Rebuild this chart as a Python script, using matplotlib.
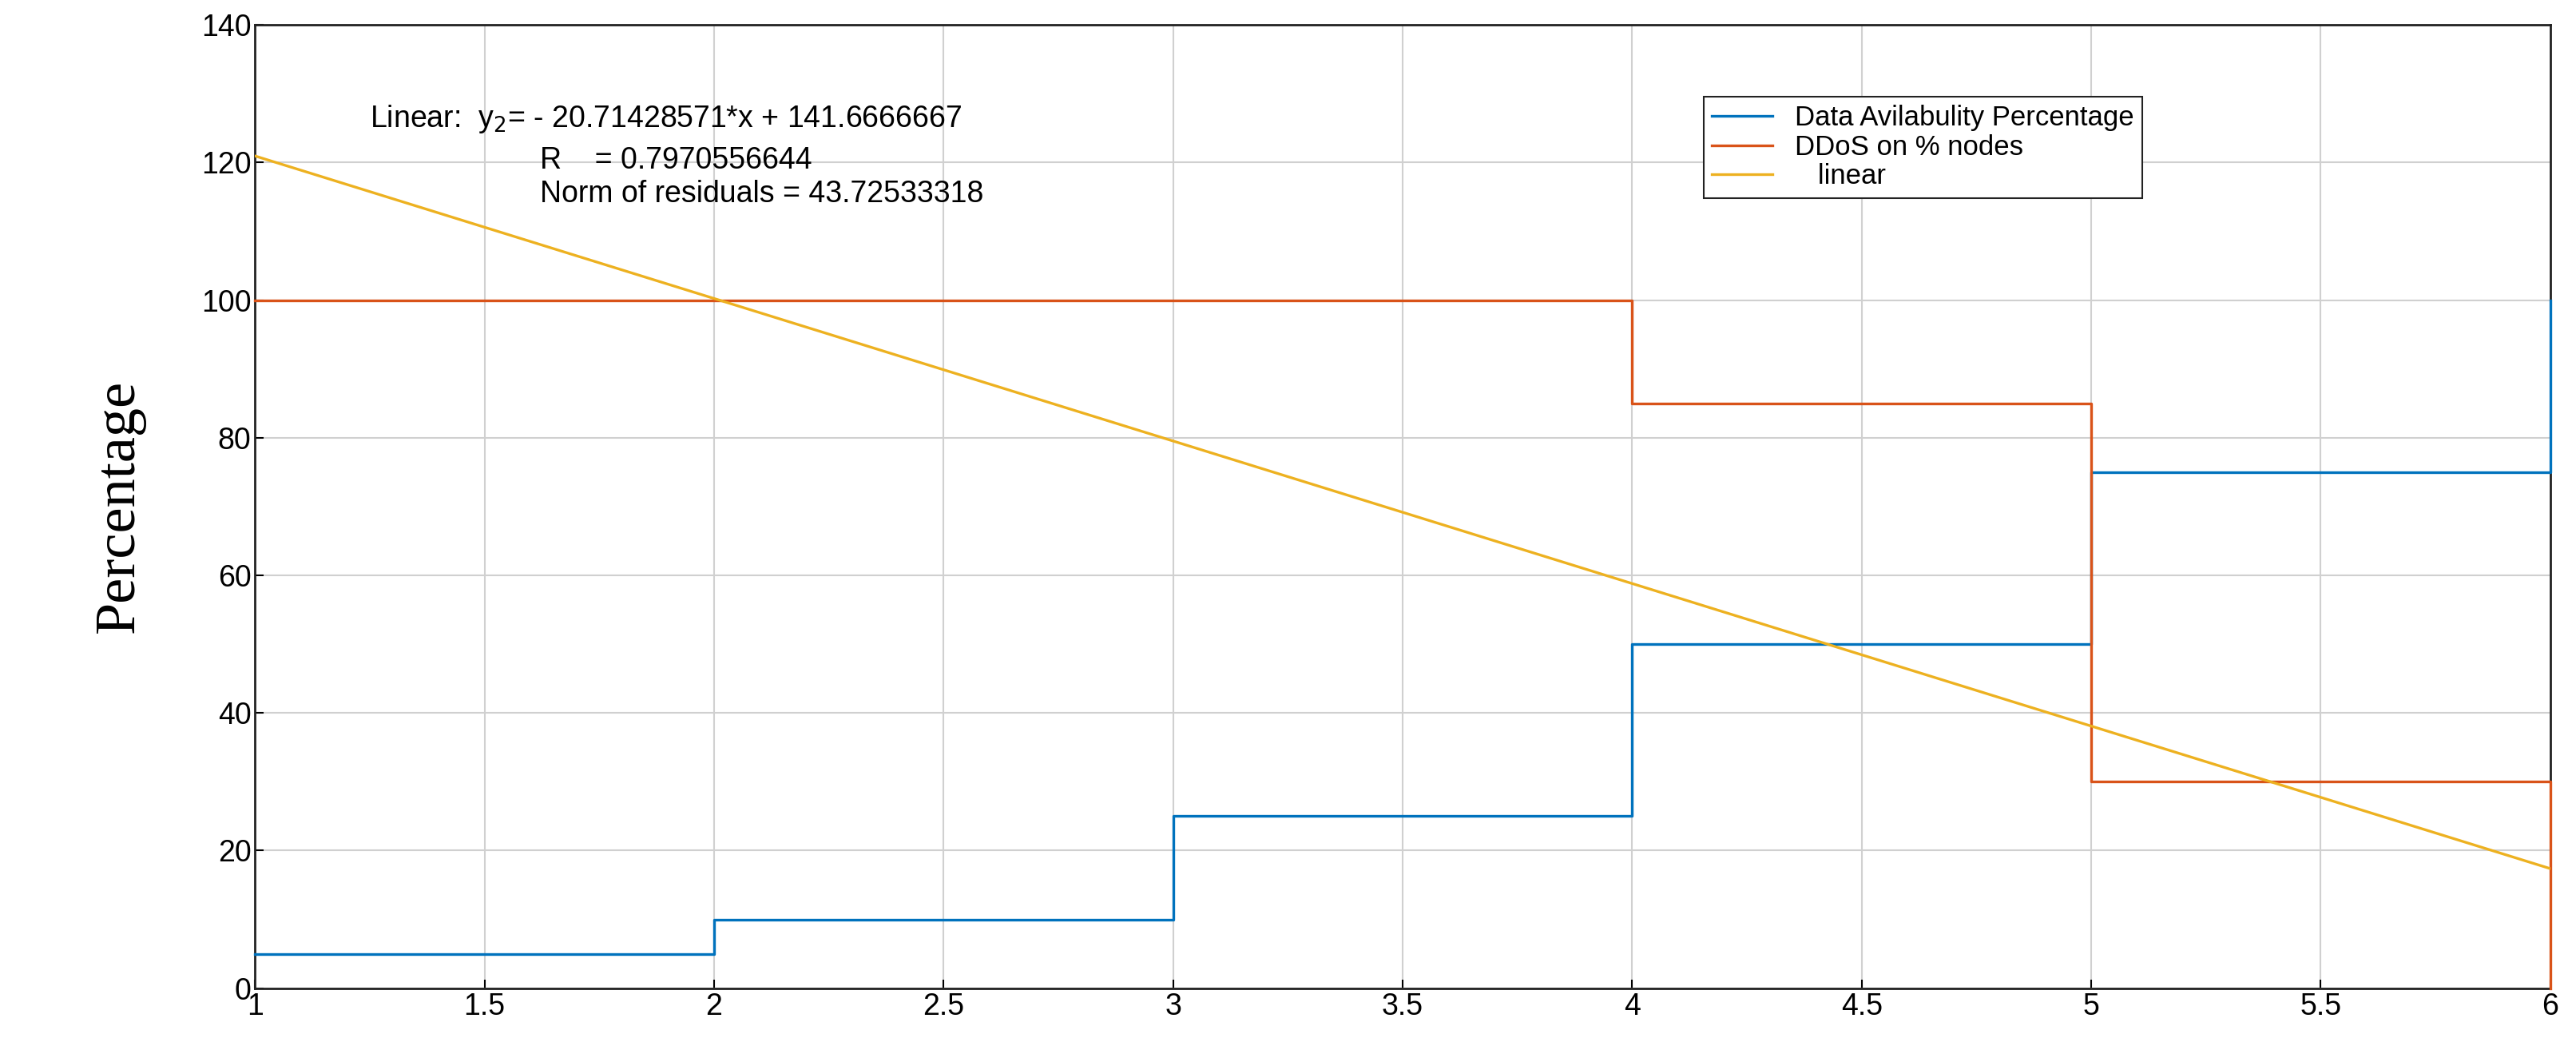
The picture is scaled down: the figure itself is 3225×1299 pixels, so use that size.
import matplotlib
matplotlib.use("Agg")
from matplotlib import pyplot as plt
import numpy as np

plt.rcParams['font.family'] = ['Liberation Sans', 'DejaVu Sans']

# data
x = [1, 2, 3, 4, 5, 6]
availability = [5, 10, 25, 50, 75, 100]
ddos = [100, 100, 100, 85, 30, 0]
slope = -20.71428571
intercept = 141.6666667

fig = plt.figure(figsize=(32.25, 12.99), dpi=100)
ax = fig.add_axes([0.099, 0.048, 0.891, 0.928])

ax.step(x, availability, where="post", color="#0072BD", lw=2.4, label="Data Avilabulity Percentage",
        clip_on=False, zorder=5)
ax.step(x, ddos, where="post", color="#D95319", lw=2.4, label="DDoS on % nodes",
        clip_on=False, zorder=5)
xl = np.array([1, 6])
ax.plot(xl, slope * xl + intercept, color="#EDB120", lw=2.4, label="   linear", zorder=5)

ax.set_xlim(1, 6)
ax.set_ylim(0, 140)
ax.set_xticks(np.arange(1, 6.01, 0.5))
ax.set_xticklabels(["1", "1.5", "2", "2.5", "3", "3.5", "4", "4.5", "5", "5.5", "6"])
ax.set_yticks(np.arange(0, 141, 20))
ax.tick_params(labelsize=27, direction="in", length=8, width=1.5)
ax.grid(True, color="#d0d0d0", lw=1.5)
for s in ax.spines.values():
    s.set_linewidth(2)
    s.set_color("#222222")
    s.set_zorder(2)

ax.set_ylabel("Percentage", family="Liberation Serif", fontsize=52, labelpad=50)

ax.text(1.25, 126.3, "Linear:  y$_2$= - 20.71428571*x + 141.6666667", fontsize=27, va="center")
ax.text(1.62, 120.3, "R    = 0.7970556644", fontsize=27, va="center")
ax.text(1.62, 115.4, "Norm of residuals = 43.72533318", fontsize=27, va="center")

leg = ax.legend(loc="upper left", bbox_to_anchor=(0.625, 0.94), fontsize=25,
                fancybox=False, framealpha=1, edgecolor="#222222",
                handlelength=2.2, borderpad=0.3, labelspacing=0.1)
leg.get_frame().set_linewidth(1.5)
leg.set_zorder(6)

fig.savefig("out.png")
